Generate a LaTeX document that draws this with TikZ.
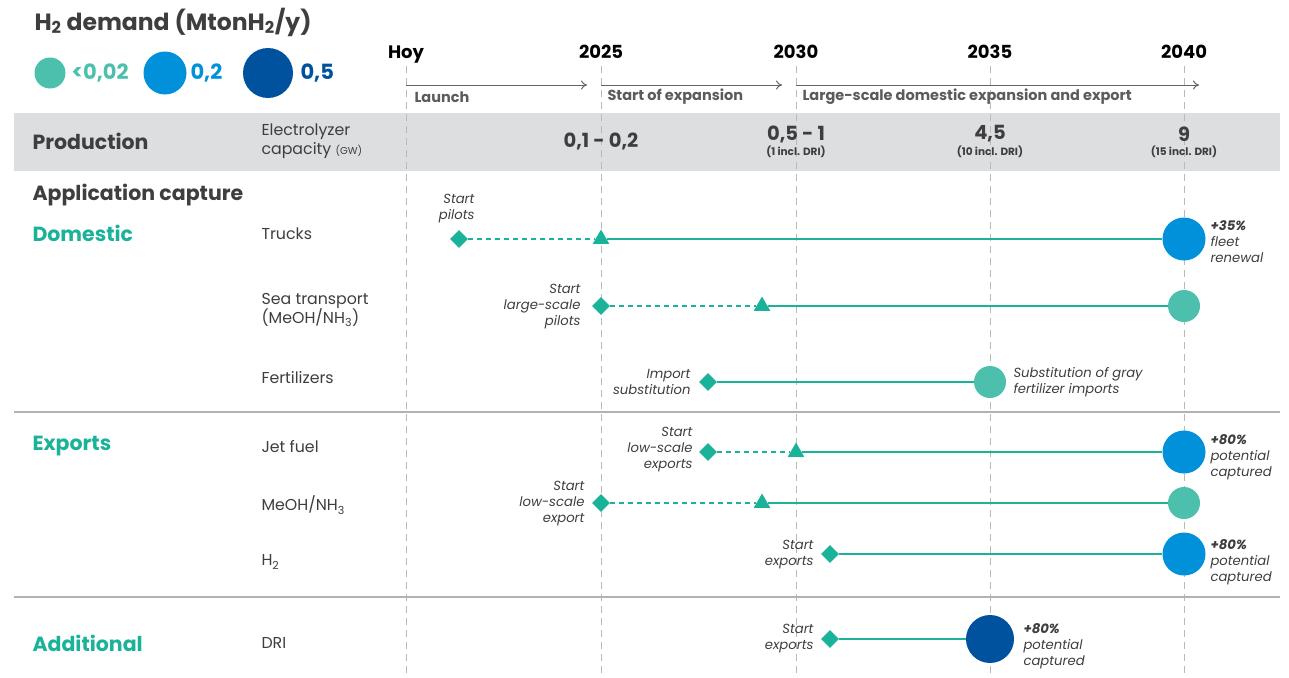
\documentclass[tikz,border=0pt]{standalone}
\usepackage{fontspec}
\setmainfont{Poppins}
\usetikzlibrary{shapes.geometric,arrows.meta}
\definecolor{lineteal}{HTML}{1BB29A}
\definecolor{dotteal}{HTML}{4DC0AD}
\definecolor{dotblue}{HTML}{0091DA}
\definecolor{dotdark}{HTML}{00529E}
\definecolor{txtgray}{HTML}{3E3E3E}
\definecolor{bandgray}{HTML}{DDDEE0}
\tikzset{
  yearlbl/.style={font=\fontsize{18}{20}\selectfont\bfseries,text=black,anchor=base},
  phaselbl/.style={font=\fontsize{14.5}{16}\selectfont\bfseries,text=txtgray!85,anchor=west},
  grouplbl/.style={font=\fontsize{20.5}{22}\selectfont\bfseries,anchor=west},
  rowlbl/.style={font=\fontsize{15.8}{18}\selectfont,text=txtgray,anchor=west,align=left},
  notelbl/.style={font=\fontsize{13.2}{16}\selectfont\itshape,text=txtgray,align=right,anchor=east},
  endlbl/.style={font=\fontsize{13.2}{16}\selectfont\itshape,text=txtgray,align=left,anchor=west},
  caplbl/.style={font=\fontsize{19.5}{20}\selectfont\bfseries,text=txtgray},
  incl/.style={font=\fontsize{10.5}{11}\selectfont\bfseries,text=txtgray},
  ms/.style={diamond,fill=lineteal,minimum size=18pt,inner sep=0pt},
  tri/.style={regular polygon,regular polygon sides=3,fill=lineteal,minimum size=19pt,inner sep=0pt},
  dotS/.style={circle,fill=dotteal,minimum size=32pt,inner sep=0pt},
  dotM/.style={circle,fill=dotblue,minimum size=43pt,inner sep=0pt},
  dotL/.style={circle,fill=dotdark,minimum size=48pt,inner sep=0pt},
  sline/.style={lineteal,line width=2.6pt},
  dline/.style={lineteal,line width=1.4pt,dash pattern=on 5pt off 4pt},
  vgrid/.style={gray!55,line width=1pt,dash pattern=on 7pt off 5pt},
}
\begin{document}
\begin{tikzpicture}[x=1pt,y=-1pt]
\useasboundingbox (0,0) rectangle (1289,677);
% legend
\node[anchor=west,font=\fontsize{23.5}{24}\selectfont\bfseries,text=txtgray] (title) at (31,22) {H\textsubscript{2} demand (MtonH\textsubscript{2}/y)};
\node[dotS,minimum size=31pt] (lgS) at (50,73) {};
\node[caplbl,font=\fontsize{21}{21}\selectfont\bfseries,text=dotteal,anchor=west] (lgSt) at (68,73) {<0,02};
\node[dotM] (lgM) at (165,73) {};
\node[caplbl,font=\fontsize{21}{21}\selectfont\bfseries,text=dotblue,anchor=west] (lgMt) at (187,73) {0,2};
\node[dotL,minimum size=50pt] (lgL) at (268,73) {};
\node[caplbl,font=\fontsize{21}{21}\selectfont\bfseries,text=dotdark,anchor=west] (lgLt) at (297,73) {0,5};
% production band
\fill[bandgray] (14,113) rectangle (1280,171);
% year grid
\foreach \x/\yr in {406/Hoy,601/2025,796/2030,990/2035,1184/2040}{
  \node[yearlbl] (y\yr) at (\x,59) {\yr};
  \draw[vgrid] (\x,66) -- (\x,677);
}
\coordinate (pA) at (406,85); \coordinate (pB) at (587,85);
\coordinate (pC) at (601,85); \coordinate (pD) at (782,85);
\coordinate (pE) at (796,85); \coordinate (pF) at (1199,85);
\draw[-{To[length=6pt,width=9pt]},txtgray!80,line width=1pt] (pA) -- (pB);
\draw[-{To[length=6pt,width=9pt]},txtgray!80,line width=1pt] (pC) -- (pD);
\draw[-{To[length=6pt,width=9pt]},txtgray!80,line width=1pt] (pE) -- (pF);
\node[phaselbl] (ph1) at (411,97) {Launch};
\node[phaselbl] (ph2) at (604,97) {Start of expansion};
\node[phaselbl] (ph3) at (799,97) {Large-scale domestic expansion and export};
% production
\node[grouplbl,text=txtgray] (prod) at (29,141) {Production};
\node[rowlbl,font=\fontsize{15.8}{19}\selectfont] (elec) at (258,141) {Electrolyzer\\capacity {\fontsize{10}{10}\selectfont(GW)}};
\node[caplbl] (c25) at (601,141) {0,1 - 0,2};
\node[caplbl] (c30) at (796,134) {0,5 - 1};
\node[incl] (i30) at (796,152) {(1 incl. DRI)};
\node[caplbl] (c35) at (990,134) {4,5};
\node[incl] (i35) at (990,152) {(10 incl. DRI)};
\node[caplbl] (c40) at (1184,134) {9};
\node[incl] (i40) at (1184,152) {(15 incl. DRI)};
% groups
\node[grouplbl,text=txtgray] (appl) at (29,195) {Application capture};
\node[grouplbl,text=lineteal] (dom) at (29,233) {Domestic};
\node[grouplbl,text=lineteal] (exp) at (29,446) {Exports};
\node[grouplbl,text=lineteal] (add) at (29,643) {Additional};
\draw[gray!60,line width=1.4pt] (14,412) -- (1280,412);
\draw[gray!60,line width=1.4pt] (14,597) -- (1280,597);
% rows
\node[rowlbl] (rTr) at (258,234) {Trucks};
\node[rowlbl,font=\fontsize{15.8}{19}\selectfont] (rSea) at (258,310) {Sea transport\\(MeOH/NH\textsubscript{3})};
\node[rowlbl] (rFe) at (258,378) {Fertilizers};
\node[rowlbl] (rJet) at (258,447) {Jet fuel};
\node[rowlbl] (rMe) at (258,505) {MeOH/NH\textsubscript{3}};
\node[rowlbl] (rH) at (258,562) {H\textsubscript{2}};
\node[rowlbl] (rDri) at (258,643) {DRI};
% trucks
\node[ms] (tr0) at (459,239) {};
\node[tri] (tr1) at (601,239) {};
\node[dotM] (tr2) at (1184,239) {};
\draw[dline] (tr0) -- (tr1);
\draw[sline] (tr1) -- (tr2);
\node[notelbl] (trN) at (478,209) {Start\\pilots};
\node[endlbl] (trE) at (1207,242) {\bfseries +35\%\\fleet\\renewal};
% sea transport
\node[ms] (se0) at (601,306) {};
\node[tri] (se1) at (762,306) {};
\node[dotS] (se2) at (1184,306) {};
\draw[dline] (se0) -- (se1);
\draw[sline] (se1) -- (se2);
\node[notelbl] (seN) at (584,307) {Start\\large-scale\\pilots};
% fertilizers
\node[ms] (fe0) at (708,382) {};
\node[dotS] (fe1) at (990,382) {};
\draw[sline] (fe0) -- (fe1);
\node[notelbl] (feN) at (694,382) {Import\\substitution};
\node[endlbl] (feE) at (1010,382) {Substitution of gray\\fertilizer imports};
% jet fuel
\node[ms] (je0) at (708,452) {};
\node[tri] (je1) at (796,452) {};
\node[dotM] (je2) at (1184,452) {};
\draw[dline] (je0) -- (je1);
\draw[sline] (je1) -- (je2);
\node[notelbl] (jeN) at (696,450) {Start\\low-scale\\exports};
\node[endlbl] (jeE) at (1207,457) {\bfseries +80\%\\potential\\captured};
% meoh/nh3
\node[ms] (me0) at (601,503) {};
\node[tri] (me1) at (762,503) {};
\node[dotS] (me2) at (1184,503) {};
\draw[dline] (me0) -- (me1);
\draw[sline] (me1) -- (me2);
\node[notelbl] (meN) at (588,504) {Start\\low-scale\\export};
% h2
\node[ms] (h0) at (830,554) {};
\node[dotM] (h1) at (1184,554) {};
\draw[sline] (h0) -- (h1);
\node[notelbl] (hN) at (817,555) {Start\\exports};
\node[endlbl] (hE) at (1207,562) {\bfseries +80\%\\potential\\captured};
% dri
\node[ms] (dr0) at (830,639) {};
\node[dotL] (dr1) at (990,639) {};
\draw[sline] (dr0) -- (dr1);
\node[notelbl] (drN) at (817,639) {Start\\exports};
\node[endlbl] (drE) at (1020,646) {\bfseries +80\%\\potential\\captured};
\end{tikzpicture}
\end{document}
